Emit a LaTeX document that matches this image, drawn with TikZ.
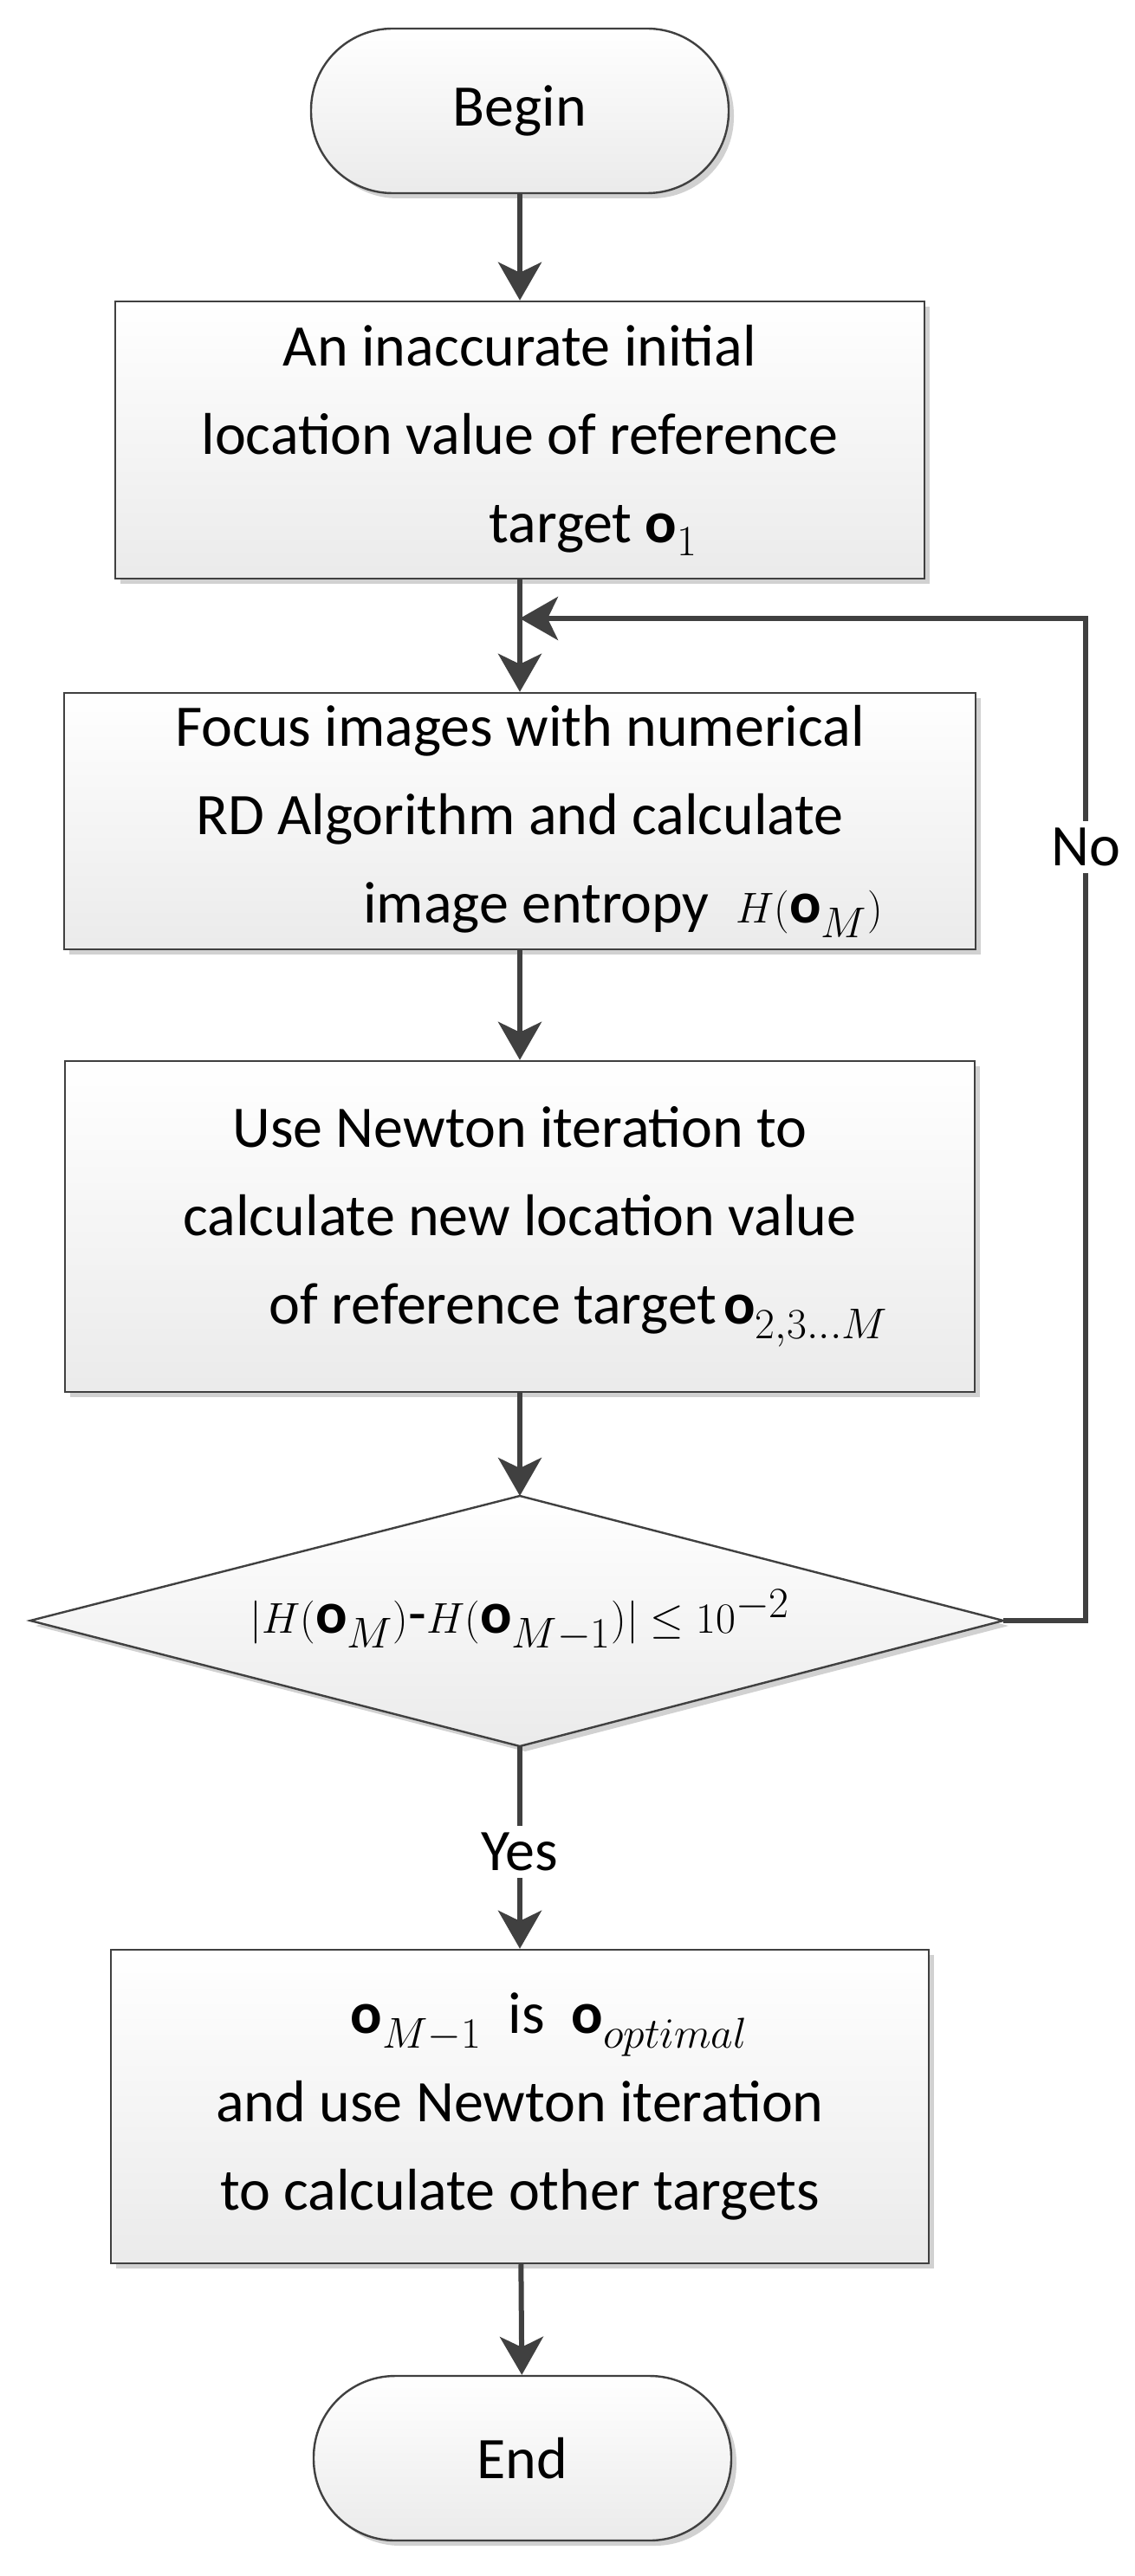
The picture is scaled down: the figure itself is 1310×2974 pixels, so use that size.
\documentclass[tikz,border=0pt]{standalone}
\usepackage{fontspec}
\setmainfont{Carlito}
\usetikzlibrary{arrows.meta,shadows}
\definecolor{ln}{HTML}{404040}
\tikzset{
  px/.style={x=0.5pt,y=-0.5pt},
  boxstyle/.style={draw=ln,line width=1.2pt,top color=white,bottom color=black!8,
    drop shadow={shadow xshift=3pt,shadow yshift=-3pt,fill=black!18,opacity=1},
    inner sep=0pt,align=center,font=\fontsize{34}{51}\selectfont},
  conn/.style={draw=ln,line width=3pt,-{Stealth[length=22pt,width=25pt,inset=6pt]}},
  plainline/.style={draw=ln,line width=3pt},
  lbl/.style={fill=white,inner sep=4pt,font=\fontsize{34}{40}\selectfont}
}
\begin{document}
\begin{tikzpicture}[px]
\useasboundingbox (0,0) rectangle (1310,2974);
\node[boxstyle,rounded corners=47pt,minimum width=241pt,minimum height=95pt] (begin) at (600,128) {Begin};
\node[boxstyle,minimum width=467pt,minimum height=160pt] (b1) at (600,508)
  {An inaccurate initial\\location value of reference\\\hspace*{2.5em}target $\mathbf{o}_1$};
\node[boxstyle,minimum width=526pt,minimum height=148pt] (b2) at (600,948)
  {Focus images with numerical\\RD Algorithm and calculate\\\hspace*{3.5em}image entropy\ \ $H(\mathbf{o}_M)$};
\node[boxstyle,minimum width=525pt,minimum height=191pt] (b3) at (600,1416)
  {Use Newton iteration to\\calculate new location value\\\hspace*{2em}of reference target$\,\mathbf{o}_{2,3\ldots M}$};
% diamond
\coordinate (dt) at (600,1727);
\coordinate (db) at (600,2016);
\coordinate (dl) at (35,1871);
\coordinate (dr) at (1158,1871);
\fill[black!18] ([xshift=3pt,yshift=-3pt]dt) -- ([xshift=3pt,yshift=-3pt]dr) -- ([xshift=3pt,yshift=-3pt]db) -- ([xshift=3pt,yshift=-3pt]dl) -- cycle;
\draw[ln,line width=1.2pt,top color=white,bottom color=black!8] (dt) -- (dr) -- (db) -- (dl) -- cycle;
\node[font=\fontsize{34}{40}\selectfont] (dtext) at (600,1871)
  {$\bigl|H(\mathbf{o}_M)\mbox{-}H(\mathbf{o}_{M-1})\bigr|\le 10^{-2}$};
\node[boxstyle,minimum width=472pt,minimum height=181pt] (b4) at (600,2432)
  {\hspace*{1em}$\mathbf{o}_{M-1}$\ \ is\ \ $\mathbf{o}_{optimal}$\\and use Newton iteration\\to calculate other targets};
\node[boxstyle,rounded corners=47pt,minimum width=241pt,minimum height=95pt] (end) at (603,2838) {End};
% connectors
\draw[conn] (begin) -- (b1);
\coordinate (join) at (600,714);
\draw[conn] (b1) -- (b2);
\draw[conn] (b2) -- (b3);
\draw[conn] (b3) -- (dt);
\coordinate (rc) at (1253,1871);
\coordinate (rt) at (1253,714);
\draw[conn] (dr) -- (rc) -- (rt) -- (join);
\node[lbl] (no) at (1253,978) {No};
\draw[conn] (db) -- (b4);
\node[lbl] (yes) at (600,2138) {Yes};
\draw[conn] (b4) -- (end);
\end{tikzpicture}
\end{document}
